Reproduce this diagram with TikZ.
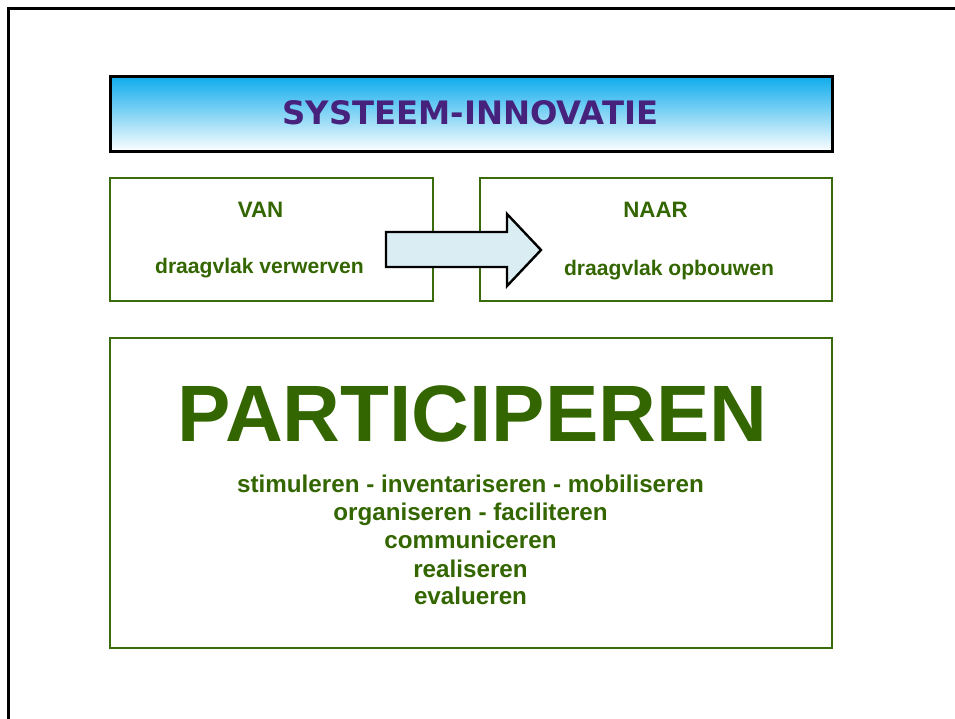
\documentclass[tikz,border=0pt]{standalone}
\usepackage{fontspec}
\setmainfont{Liberation Sans}
\newfontfamily\titlefont{DejaVu Sans}
\definecolor{tpurple}{RGB}{70,34,124}
\definecolor{tgreen}{RGB}{51,102,0}
\definecolor{bgreen}{RGB}{58,108,12}
\definecolor{tcyan}{RGB}{16,172,236}
\definecolor{arrowfill}{RGB}{218,237,242}
\tikzset{
  gbox/.style={draw=bgreen, line width=2.6pt, fill=none, inner sep=0pt},
  gtext/.style={text=tgreen, font=\bfseries, anchor=base, inner sep=0pt},
}
\begin{document}
\begin{tikzpicture}[x=1pt,y=-1pt]
\useasboundingbox (0,0) rectangle (955,719);
% outer frame
\draw[line width=3pt, black] (8,725) -- (8,9) -- (962,9);
% title
\node[draw=black, line width=3pt, top color=tcyan, bottom color=white,
      minimum width=722pt, minimum height=75pt, inner sep=0pt] (title) at (471,114.5) {};
\node[anchor=base, inner sep=0pt, text=tpurple, font=\titlefont\bfseries\fontsize{32.3}{36}\selectfont] (titletext) at (470.5,124.5) {SYSTEEM-INNOVATIE};
% van / naar boxes
\node[gbox, minimum width=323pt, minimum height=123pt] (van) at (271.5,239.5) {};
\node[gbox, minimum width=352pt, minimum height=123pt] (naar) at (656,239.5) {};
\node[gtext, font=\bfseries\fontsize{22.3}{26}\selectfont] (vant) at (260.5,218) {VAN};
\node[gtext, font=\bfseries\fontsize{21.1}{25}\selectfont] (vans) at (259.5,273) {draagvlak verwerven};
\node[gtext, font=\bfseries\fontsize{22.3}{26}\selectfont] (naart) at (655.5,218) {NAAR};
\node[gtext, font=\bfseries\fontsize{21.1}{25}\selectfont] (naars) at (669,275) {draagvlak opbouwen};
% arrow
\draw[line width=2.4pt, fill=arrowfill, line join=miter]
  (386,232) -- (507,232) -- (507,214) -- (541,250) -- (507,286) -- (507,267) -- (386,267) -- cycle;
% big box
\node[gbox, minimum width=722pt, minimum height=310pt] (big) at (471,493) {};
\node[gtext, font=\bfseries\fontsize{80}{90}\selectfont] (part) at (472.5,441) {PARTICIPEREN};
\node[gtext, font=\bfseries\fontsize{24.2}{28}\selectfont] (l1) at (470.5,492) {stimuleren - inventariseren - mobiliseren};
\node[gtext, font=\bfseries\fontsize{24.2}{28}\selectfont] (l2) at (470.5,520) {organiseren - faciliteren};
\node[gtext, font=\bfseries\fontsize{24.2}{28}\selectfont] (l3) at (470.5,548) {communiceren};
\node[gtext, font=\bfseries\fontsize{24.2}{28}\selectfont] (l4) at (470.5,577) {realiseren};
\node[gtext, font=\bfseries\fontsize{24.2}{28}\selectfont] (l5) at (470.5,604) {evalueren};
\end{tikzpicture}
\end{document}
